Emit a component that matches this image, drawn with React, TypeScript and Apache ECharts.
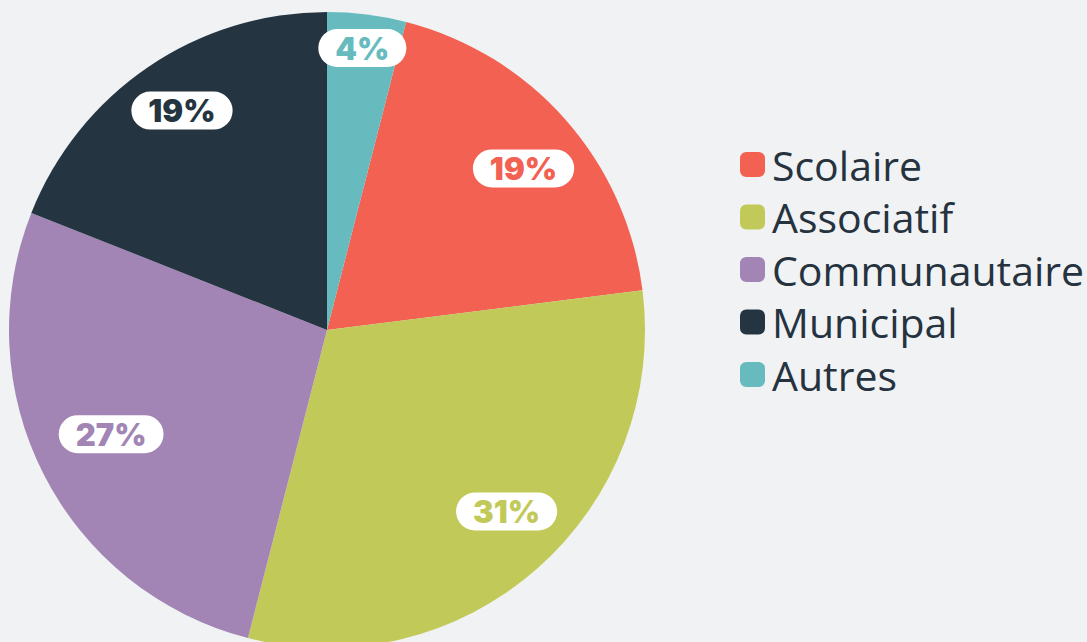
import React, { useEffect, useRef } from "react";
import * as echarts from "echarts";

const categories = ["Scolaire", "Associatif", "Communautaire", "Municipal", "Autres"];
const values = [19, 31, 27, 19, 4];
const colors = ["#f26152", "#c1ca58", "#a285b4", "#243440", "#67bbbf"];
const labelOffsets: number[][] = [[3, 9], [9, -12], [14, -13], [0, -6], [3, -26]];

export default function App() {
  const ref = useRef<HTMLDivElement>(null);
  useEffect(() => {
    document.body.style.margin = "0";
    document.body.style.background = "#f0f2f4";
    const chart = echarts.init(ref.current!, null, { renderer: "svg" });
    const total = values.reduce((a, b) => a + b, 0);
    const startAngle = 90 - (values[4] / total) * 360;
    const pieData = categories.map((name, i) => ({
      name,
      value: values[i],
      itemStyle: { color: colors[i] },
    }));
    const labelData = categories.map((name, i) => ({
      name,
      value: values[i],
      label: { color: colors[i], offset: labelOffsets[i] },
    }));
    chart.setOption({
      animation: false,
      backgroundColor: "#f0f2f4",
      legend: {
        orient: "vertical",
        left: 735,
        top: 139,
        itemWidth: 25,
        itemHeight: 25,
        itemGap: 11.5,
        icon: "roundRect",
        data: categories,
        textStyle: {
          fontSize: 41,
          lineHeight: 40,
          color: "#26333f",
          fontFamily: "Open Sans",
          padding: [0, 0, 0, 2],
        },
      },
      series: [
        {
          type: "pie",
          center: [327, 330],
          radius: [0, 318],
          startAngle,
          clockwise: true,
          silent: true,
          label: { show: false },
          labelLine: { show: false },
          data: pieData,
        },
        {
          type: "pie",
          center: [327, 330],
          radius: [195, 315],
          startAngle,
          clockwise: true,
          silent: true,
          legendHoverLink: false,
          itemStyle: { color: "transparent" },
          emphasis: { disabled: true },
          labelLine: { show: false },
          label: {
            show: true,
            position: "inside",
            formatter: "{c}%",
            fontFamily: "Inter",
            fontWeight: 900,
            fontSize: 31,
            backgroundColor: "#ffffff",
            borderRadius: 19,
            padding: [3, 17, 3, 17],
            lineHeight: 32,
          },
          data: labelData,
        },
      ],
    });
    return () => chart.dispose();
  }, []);
  return <div ref={ref} style={{ width: 1087, height: 642 }} />;
}
